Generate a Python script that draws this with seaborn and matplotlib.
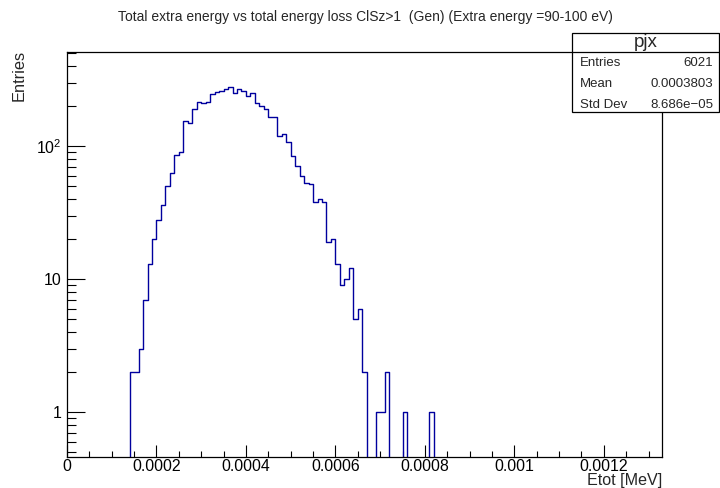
import numpy as np
import pandas as pd
import matplotlib
matplotlib.use("Agg")
import matplotlib.pyplot as plt
import matplotlib.ticker as mticker
from matplotlib.patches import Rectangle
from matplotlib.lines import Line2D
import seaborn as sns

# ---- histogram "pjx": fixed 1e-5 MeV bins from 0 to 0.00133 MeV ----
bin_width = 1e-5
n_bins = 133
first_filled_bin = 14
filled_counts = [2, 2, 3, 7, 13, 20, 28, 36, 50, 63,
                 85, 90, 154, 148, 190, 214, 209, 214, 248, 256,
                 261, 270, 279, 250, 270, 258, 238, 252, 211, 201,
                 191, 166, 164, 119, 124, 108, 84, 71, 60, 53,
                 52, 38, 40, 38, 19, 20, 13, 9, 10, 12,
                 5, 6, 2, 0, 0, 1, 1, 2, 0, 0,
                 0, 1, 0, 0, 0, 0, 0, 1]

# statistics box entries
stats_name = "pjx"
stats_labels = ["Entries", "Mean", "Std Dev"]
stats_values = ["6021", "0.0003803", "8.686e\u221205"]

title = "Total extra energy vs total energy loss ClSz>1  (Gen) (Extra energy =90-100 eV)"
x_title = "Etot [MeV]"
y_title = "Entries"

x_max = n_bins * bin_width
counts = np.zeros(n_bins)
counts[first_filled_bin:first_filled_bin + len(filled_counts)] = filled_counts
df = pd.DataFrame({"etot": (np.arange(n_bins) + 0.5) * bin_width, "n": counts})

sns.set_style("white")
plt.rcParams["font.family"] = ["Liberation Sans", "DejaVu Sans"]
plt.rcParams["mathtext.fontset"] = "custom"
plt.rcParams["mathtext.rm"] = "Liberation Sans"
plt.rcParams["mathtext.it"] = "Liberation Sans:italic"

W, H = 720, 488
fig = plt.figure(figsize=(W / 100, H / 100), dpi=100)
fig.patch.set_facecolor("white")

left, right, top, bottom = 67, 662, 52, 457
ax = fig.add_axes([left / W, 1 - bottom / H, (right - left) / W, (bottom - top) / H])
ax.set_facecolor("white")

sns.histplot(data=df, x="etot", weights="n", binwidth=bin_width, binrange=(0, x_max),
             element="step", fill=False, color="#00009e", linewidth=1.0, ax=ax)

ax.set_yscale("log")
ax.set_xlim(0, x_max)
ax.set_ylim(10 ** (-45 / 133), 10 ** (360 / 133))

for s in ax.spines.values():
    s.set_color("black")
    s.set_linewidth(0.9)

# x axis: labelled every 0.0002, minor every 0.00005
ax.xaxis.set_major_locator(mticker.MultipleLocator(2e-4))
ax.xaxis.set_minor_locator(mticker.MultipleLocator(5e-5))
ax.xaxis.set_major_formatter(mticker.FuncFormatter(lambda v, p: "%g" % v))

# y axis: decades with 2..9 sub-ticks
def ylab(v, p):
    if abs(v - 1) < 1e-9:
        return "1"
    if abs(v - 10) < 1e-9:
        return "10"
    e = int(round(np.log10(v)))
    return r"$\mathregular{10^{%d}}$" % e

ax.yaxis.set_major_locator(mticker.LogLocator(base=10, numticks=10))
ax.yaxis.set_minor_locator(mticker.LogLocator(base=10, subs=np.arange(2, 10), numticks=20))
ax.yaxis.set_major_formatter(mticker.FuncFormatter(ylab))
ax.yaxis.set_minor_formatter(mticker.NullFormatter())

ax.tick_params(axis="x", which="major", direction="in", length=8.6, width=0.8,
               labelsize=11.4, pad=1.5, bottom=True, top=False, colors="black")
ax.tick_params(axis="x", which="minor", direction="in", length=4.3, width=0.8,
               bottom=True, top=False, colors="black")
ax.tick_params(axis="y", which="major", direction="in", length=13, width=0.8,
               labelsize=11.4, pad=4, left=True, right=False, colors="black")
ax.tick_params(axis="y", which="minor", direction="in", length=6.5, width=0.8,
               left=True, right=False, colors="black")

ax.set_xlabel("")
ax.set_ylabel("")
fig.text(right / W, 1 - 481 / H, x_title, ha="right", va="center", fontsize=11.6)
fig.text(19 / W, 1 - 75 / H, y_title, ha="center", va="center", rotation=90, fontsize=11.8)

fig.text(365 / W, 1 - 17 / H, title, ha="center", va="center", fontsize=10)

# statistics box
bx0, bx1, by0, by1, bsep = 572, 719, 33, 112, 52.3
fig.add_artist(Rectangle((bx0 / W, 1 - by1 / H), (bx1 - bx0) / W, (by1 - by0) / H,
                         transform=fig.transFigure, facecolor="white",
                         edgecolor="black", linewidth=0.9, zorder=5))
fig.add_artist(Line2D([bx0 / W, bx1 / W], [1 - bsep / H, 1 - bsep / H],
                      transform=fig.transFigure, color="black", linewidth=0.9, zorder=6))
fig.text((bx0 + bx1) / 2 / W, 1 - 42.5 / H, stats_name, ha="center", va="center",
         fontsize=13.5, zorder=7)
for i, (lab, val) in enumerate(zip(stats_labels, stats_values)):
    yy = 1 - (63 + 21 * i) / H
    fig.text(580 / W, yy, lab, ha="left", va="center", fontsize=9.5, zorder=7)
    fig.text(713 / W, yy, val, ha="right", va="center", fontsize=9.5, zorder=7)

fig.savefig("out.png", dpi=100, facecolor="white")
